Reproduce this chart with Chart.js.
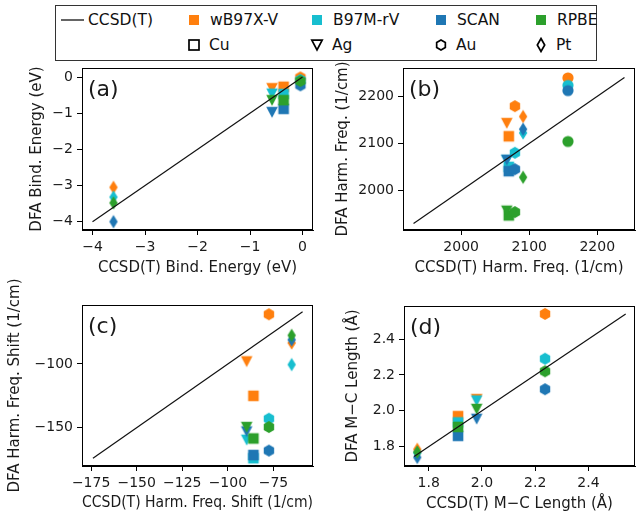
<!DOCTYPE html>
<html lang="en">
<head>
<meta charset="UTF-8" />
<title>DFA vs CCSD(T) metal carbonyls</title>
<script src="https://cdn.jsdelivr.net/npm/chart.js"></script>
<style>
  body { margin: 0; background: #fff; font-family: 'DejaVu Sans', sans-serif; }
  .panel { position: absolute; }
  #legend {
    position: absolute; left: 55px; top: 5px; width: 542px; height: 56px;
    box-sizing: border-box; border: 1px solid #333; font-size: 15.5px; color: #111;
  }
  #legend span, #legend svg { position: absolute; }
</style>
</head>
<body>
<div id="legend"></div>
<div class="panel" style="left:0;top:62px;width:320px;height:224px"><canvas id="chartA"></canvas></div>
<div class="panel" style="left:320px;top:62px;width:316px;height:224px"><canvas id="chartB"></canvas></div>
<div class="panel" style="left:0;top:276px;width:320px;height:237px"><canvas id="chartC"></canvas></div>
<div class="panel" style="left:320px;top:276px;width:316px;height:237px"><canvas id="chartD"></canvas></div>
<script>
// ---- data ----
const functionals = ['wB97X-V', 'B97M-rV', 'SCAN', 'RPBE'];
const metals = ['Cu', 'Ag', 'Au', 'Pt'];

// (a) binding energy (eV), order Cu, Ag, Au, Pt
const bindRef = [-0.36, -0.58, -0.04, -3.6];
const bindWB97XV = [-0.27, -0.31, -0.01, -3.05];
const bindB97MrV = [-0.47, -0.46, -0.08, -3.32];
const bindSCAN = [-0.88, -0.97, -0.23, -4.0];
const bindRPBE = [-0.64, -0.64, -0.11, -3.48];
const bindLine = [-4, 0];

// (b) harmonic frequency (1/cm), order Cu, Ag, Au, Pt, free CO
const freqRef = [2070, 2067, 2079, 2091, 2157];
const freqWB97XV = [2115, 2143, 2179, 2157, 2239];
const freqB97MrV = [2050, 2064, 2080, 2122, 2223];
const freqSCAN = [2041, 2065, 2045, 2130, 2212];
const freqRPBE = [1947, 1957, 1954, 2028, 2104];
const freqLine = [1930, 2240];

// (c) harmonic frequency shift (1/cm), order Cu, Ag, Au, Pt
const shiftRef = [-86, -89.7, -77.5, -65];
const shiftWB97XV = [-125, -98, -61, -83.5];
const shiftB97MrV = [-174, -159.5, -143, -100.5];
const shiftSCAN = [-171.5, -153, -168, -81];
const shiftRPBE = [-158.5, -149.5, -149.5, -77.5];
const shiftLine = [-174, -59];

// (d) M-C length (Angstrom), order Cu, Ag, Au, Pt
const lenRef = [1.91, 1.98, 2.237, 1.757];
const lenWB97XV = [1.97, 2.065, 2.54, 1.785];
const lenB97MrV = [1.935, 2.057, 2.29, 1.765];
const lenSCAN = [1.86, 1.955, 2.12, 1.74];
const lenRPBE = [1.91, 2.01, 2.22, 1.77];
const lenLine = [1.745, 2.54];

// tick labels
const ticksAX = [-4, -3, -2, -1, 0];
const ticksAY = [-4, -3, -2, -1, 0];
const ticksBX = [2000, 2100, 2200];
const ticksBY = [2000, 2100, 2200];
const ticksCX = [-175, -150, -125, -100, -75];
const ticksCY = [-150, -100];
const ticksDX = [1.8, 2.0, 2.2, 2.4];
const ticksDY = [1.8, 2.0, 2.2, 2.4];

// ---- style ----
const colors = ['#ff7f0e', '#17becf', '#1f77b4', '#2ca02c'];
const shapes = ['square', 'tri', 'hex', 'diamond', 'circle'];
const textColor = '#1a1a1a';

Chart.defaults.font.family = "'DejaVu Sans', sans-serif";
Chart.defaults.font.size = 14;
Chart.defaults.color = textColor;

function shapePath(ctx, shape, cx, cy) {
  ctx.beginPath();
  if (shape === 'square') {
    ctx.rect(cx - 5.3, cy - 5.3, 10.6, 10.6);
  } else if (shape === 'tri') {
    ctx.moveTo(cx - 5.8, cy - 5.3);
    ctx.lineTo(cx + 5.8, cy - 5.3);
    ctx.lineTo(cx, cy + 5.8);
    ctx.closePath();
  } else if (shape === 'hex') {
    for (let i = 0; i < 6; i++) {
      const a = (-90 + 60 * i) * Math.PI / 180;
      const px = cx + 6 * Math.cos(a), py = cy + 6 * Math.sin(a);
      if (i === 0) ctx.moveTo(px, py); else ctx.lineTo(px, py);
    }
    ctx.closePath();
  } else if (shape === 'diamond') {
    ctx.moveTo(cx, cy - 6.8);
    ctx.lineTo(cx + 4.2, cy);
    ctx.lineTo(cx, cy + 6.8);
    ctx.lineTo(cx - 4.2, cy);
    ctx.closePath();
  } else {
    ctx.arc(cx, cy, 5.6, 0, Math.PI * 2);
  }
}

function makeMarker(shape, color) {
  const c = document.createElement('canvas');
  c.width = 16; c.height = 16;
  const ctx = c.getContext('2d');
  shapePath(ctx, shape, 8, 8);
  ctx.fillStyle = color;
  ctx.fill();
  return c;
}

const markers = colors.map(col => shapes.map(s => makeMarker(s, col)));

// frame + panel label
const framePlugin = {
  id: 'frame',
  afterDraw(chart, args, opts) {
    const { ctx, chartArea: a } = chart;
    ctx.save();
    ctx.strokeStyle = '#000';
    ctx.lineWidth = 1;
    ctx.strokeRect(Math.round(a.left) + 0.5, Math.round(a.top) + 0.5,
      Math.round(a.right - a.left) - 1, Math.round(a.bottom - a.top) - 1);
    ctx.fillStyle = textColor;
    ctx.font = "22px 'DejaVu Sans', sans-serif";
    ctx.textBaseline = 'middle';
    ctx.fillText(opts.label, a.left + 6, a.top + 22);
    ctx.restore();
  }
};

function fmt(dec) {
  return v => (dec ? Number(v).toFixed(dec) : String(v)).replace('-', '\u2212');
}

function makeChart(id, p) {
  const datasets = [{
    label: 'CCSD(T)',
    data: p.line.map(v => ({ x: v, y: v })),
    showLine: true,
    borderColor: '#111',
    borderWidth: 1.2,
    pointRadius: 0,
    order: 0
  }];
  p.series.forEach((ys, i) => {
    datasets.push({
      label: functionals[i],
      data: ys.map((y, j) => ({ x: p.ref[j], y: y })),
      pointStyle: ys.map((y, j) => markers[i][j]),
      pointRadius: 5,
      order: 4 - i
    });
  });
  const axis = (min, max, ticks, title, dec, isY) => ({
    type: 'linear',
    min: min, max: max,
    afterBuildTicks: s => { s.ticks = ticks.map(v => ({ value: v })); },
    afterFit: s => {
      if (isY) s.width = p.yw; else s.height = p.xh;
      s.paddingTop = 0; s.paddingBottom = 0; s.paddingLeft = 0; s.paddingRight = 0;
    },
    ticks: { callback: fmt(dec), padding: 4, color: textColor, maxRotation: 0, autoSkip: false },
    grid: { drawOnChartArea: false, drawTicks: true, tickLength: 5, color: '#000' },
    border: { display: true, color: '#000' },
    title: {
      display: true, text: title, color: textColor, font: { size: 15 },
      padding: isY ? { top: p.ytp, bottom: 0 } : { top: 0, bottom: p.xtp }
    }
  });
  return new Chart(document.getElementById(id), {
    type: 'scatter',
    data: { datasets: datasets },
    options: {
      responsive: true,
      maintainAspectRatio: false,
      animation: false,
      layout: { autoPadding: false, padding: { top: p.pt, right: p.pr, left: 0, bottom: 0 } },
      plugins: { legend: { display: false }, tooltip: { enabled: false }, frame: { label: p.label } },
      scales: {
        x: axis(p.xr[0], p.xr[1], p.xt, p.xtitle, p.dec, false),
        y: axis(p.yr[0], p.yr[1], p.yt, p.ytitle, p.dec, true)
      }
    },
    plugins: [framePlugin]
  });
}

makeChart('chartA', {
  label: '(a)', ref: bindRef, series: [bindWB97XV, bindB97MrV, bindSCAN, bindRPBE], line: bindLine,
  xr: [-4.2, 0.2], yr: [-4.23, 0.25], xt: ticksAX, yt: ticksAY, dec: 0,
  xtitle: 'CCSD(T) Bind. Energy (eV)', ytitle: 'DFA Bind. Energy (eV)',
  yw: 82, xh: 56, ytp: 28, xtp: 9, pt: 6, pr: 7
});
makeChart('chartB', {
  label: '(b)', ref: freqRef, series: [freqWB97XV, freqB97MrV, freqSCAN, freqRPBE], line: freqLine,
  xr: [1914.5, 2255.5], yr: [1916, 2260], xt: ticksBX, yt: ticksBY, dec: 0,
  xtitle: 'CCSD(T) Harm. Freq. (1/cm)', ytitle: 'DFA Harm. Freq. (1/cm)',
  yw: 83, xh: 56, ytp: 14, xtp: 9, pt: 6, pr: 1
});
makeChart('chartC', {
  label: '(c)', ref: shiftRef, series: [shiftWB97XV, shiftB97MrV, shiftSCAN, shiftRPBE], line: shiftLine,
  xr: [-180, -53.3], yr: [-180.1, -53.7], xt: ticksCX, yt: ticksCY, dec: 0,
  xtitle: 'CCSD(T) Harm. Freq. Shift (1/cm)', ytitle: 'DFA Harm. Freq. Shift (1/cm)',
  yw: 82, xh: 47, ytp: 6, xtp: 1, pt: 29, pr: 7
});
makeChart('chartD', {
  label: '(d)', ref: lenRef, series: [lenWB97XV, lenB97MrV, lenSCAN, lenRPBE], line: lenLine,
  xr: [1.707, 2.575], yr: [1.692, 2.584], xt: ticksDX, yt: ticksDY, dec: 1,
  xtitle: 'CCSD(T) M\u2212C Length (\u00c5)', ytitle: 'DFA M\u2212C Length (\u00c5)',
  yw: 84, xh: 47, ytp: 24, xtp: 0, pt: 30, pr: 1
});

// ---- legend (html) ----
function svgShape(shape, cx, cy, fill) {
  const ns = 'http://www.w3.org/2000/svg';
  const svg = document.createElementNS(ns, 'svg');
  svg.setAttribute('width', 16); svg.setAttribute('height', 16);
  svg.style.left = (cx - 8) + 'px'; svg.style.top = (cy - 8) + 'px';
  let el;
  if (shape === 'square') {
    el = document.createElementNS(ns, 'rect');
    el.setAttribute('x', 3); el.setAttribute('y', 3); el.setAttribute('width', 10); el.setAttribute('height', 10);
  } else {
    el = document.createElementNS(ns, 'polygon');
    let pts;
    if (shape === 'tri') pts = '2.8,3.2 13.2,3.2 8,13';
    else if (shape === 'hex') pts = [0, 1, 2, 3, 4, 5].map(i => {
      const a = (-90 + 60 * i) * Math.PI / 180;
      return (8 + 5 * Math.cos(a)).toFixed(2) + ',' + (8 + 5 * Math.sin(a)).toFixed(2);
    }).join(' ');
    else pts = '8,1.5 11.7,8 8,14.5 4.3,8';
    el.setAttribute('points', pts);
  }
  if (fill) { el.setAttribute('fill', fill); }
  else { el.setAttribute('fill', 'none'); el.setAttribute('stroke', '#000'); el.setAttribute('stroke-width', 1.7); }
  svg.appendChild(el);
  return svg;
}

const legend = document.getElementById('legend');
function addText(txt, left, cy) {
  const s = document.createElement('span');
  s.textContent = txt;
  s.style.left = left + 'px';
  s.style.top = (cy - 9) + 'px';
  s.style.lineHeight = '18px';
  legend.appendChild(s);
}
// positions relative to the legend box
const colX = [138, 261, 385, 485];
const row1 = 14, row2 = 39;
const lineSvg = document.createElementNS('http://www.w3.org/2000/svg', 'svg');
lineSvg.setAttribute('width', 24); lineSvg.setAttribute('height', 4);
lineSvg.style.left = '5px'; lineSvg.style.top = (row1 - 2) + 'px';
lineSvg.innerHTML = '<line x1="0" y1="2" x2="23" y2="2" stroke="#111" stroke-width="1.3"/>';
legend.appendChild(lineSvg);
addText('CCSD(T)', 32, row1);
functionals.forEach((f, i) => {
  legend.appendChild(svgShape('square', colX[i], row1, colors[i]));
  addText(f, colX[i] + 16, row1);
});
metals.forEach((m, i) => {
  legend.appendChild(svgShape(shapes[i], colX[i], row2, null));
  addText(m, colX[i] + 15, row2);
});
</script>
</body>
</html>
